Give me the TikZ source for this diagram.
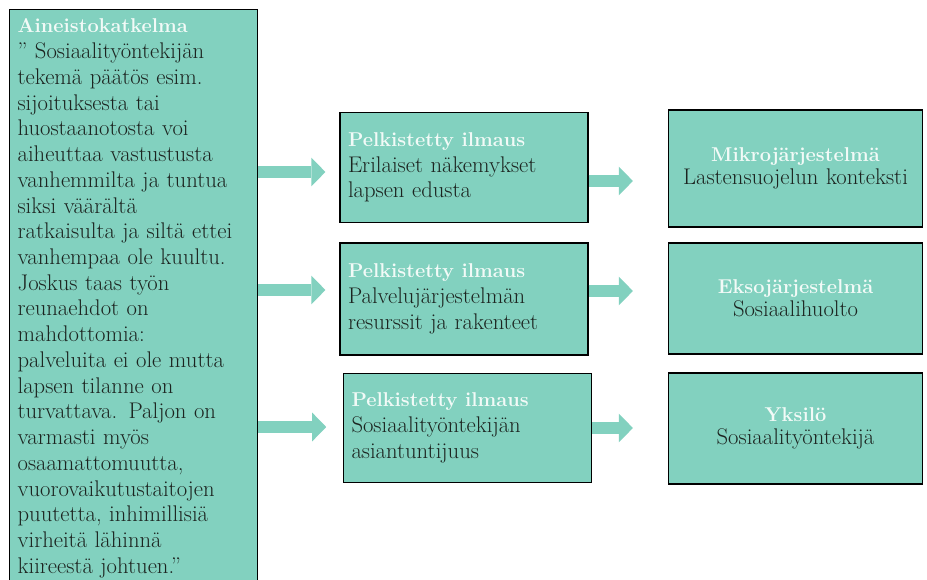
\documentclass[tikz,border=0pt]{standalone}
\usepackage{fontspec}
\usetikzlibrary{arrows.meta,positioning}
\definecolor{laatikkovari}{RGB}{130,209,191}
\definecolor{otsikkovari}{RGB}{242,250,247}
\definecolor{leipavari}{RGB}{28,36,32}
\newcommand{\otsikko}[1]{{\fontsize{15}{19.3}\selectfont\bfseries\color{otsikkovari}#1}}
\begin{document}
\begin{tikzpicture}[x=0.75pt,y=-0.75pt,
    laatikko/.style={draw=black, line width=0.9pt, fill=laatikkovari, text=leipavari,
        inner xsep=6pt, inner ysep=7pt, font=\fontsize{17}{19.3}\selectfont},
    aineistolaatikko/.style={laatikko, anchor=north west, text width=174pt, align=left},
    pelkistys/.style={laatikko, text width=174pt, minimum height=82pt, align=left},
    jarjestelma/.style={laatikko, text width=179pt, minimum height=84pt, align=center,
        font=\fontsize{17}{17.5}\selectfont},
    nuoli/.style={draw=laatikkovari, line width=9.5pt,
        -{Triangle[length=10.5pt,width=21.5pt,line width=0pt]}}
    ]
    \useasboundingbox (0,0) rectangle (927,580);
    \clip (0,0) rectangle (927,580);

    \node[aineistolaatikko] (aineisto) at (9,9) {\otsikko{Aineistokatkelma}\\
        ” Sosiaalityöntekijän\\ tekemä päätös esim.\\ sijoituksesta tai\\
        huostaanotosta voi\\ aiheuttaa vastustusta\\ vanhemmilta ja tuntua\\
        siksi väärältä\\ ratkaisulta ja siltä ettei\\ vanhempaa ole kuultu.\\
        Joskus taas työn\\ reunaehdot on\\ mahdottomia:\\ palveluita ei ole mutta\\
        lapsen tilanne on\\ turvattava. Paljon on\\ varmasti myös\\ osaamattomuutta,\\
        vuorovaikutustaitojen\\ puutetta, inhimillisiä\\ virheitä lähinnä\\
        kiireestä johtuen.”};

    \node[pelkistys] (pelk1) at (464,167.5) {\otsikko{Pelkistetty ilmaus}\\ Erilaiset näkemykset\\ lapsen edusta};
    \node[pelkistys, minimum height=84pt] (pelk2) at (464,299) {\otsikko{Pelkistetty ilmaus}\\ Palvelujärjestelmän\\ resurssit ja rakenteet};
    \node[pelkistys] (pelk3) at (467.5,428) {\otsikko{Pelkistetty ilmaus}\\ Sosiaalityöntekijän\\ asiantuntijuus};

    \node[jarjestelma, minimum height=87.75pt] (mikro) at (795.5,168.5) {\otsikko{Mikrojärjestelmä}\\ Lastensuojelun konteksti};
    \node[jarjestelma, minimum height=83.25pt] (ekso) at (795.5,298.5) {\otsikko{Eksojärjestelmä}\\ Sosiaalihuolto};
    \node[jarjestelma, minimum height=83.25pt] (yksilo) at (795.5,428.5) {\otsikko{Yksilö}\\ Sosiaalityöntekijä};

    \draw[nuoli, shorten >=10.5pt] (aineisto.east |- 0,172) -- (pelk1.west |- 0,172);
    \draw[nuoli, shorten >=10.5pt] (aineisto.east |- 0,290) -- (pelk2.west |- 0,290);
    \draw[nuoli, shorten >=12.5pt] (aineisto.east |- 0,427) -- (pelk3.west |- 0,427);

    \draw[nuoli, shorten >=26pt] (pelk1.east |- 0,181) -- (mikro.west |- 0,181);
    \draw[nuoli, shorten >=26pt] (pelk2.east |- 0,291) -- (ekso.west |- 0,291);
    \draw[nuoli, shorten >=26pt] (pelk3.east |- 0,428) -- (yksilo.west |- 0,428);
\end{tikzpicture}
\end{document}
